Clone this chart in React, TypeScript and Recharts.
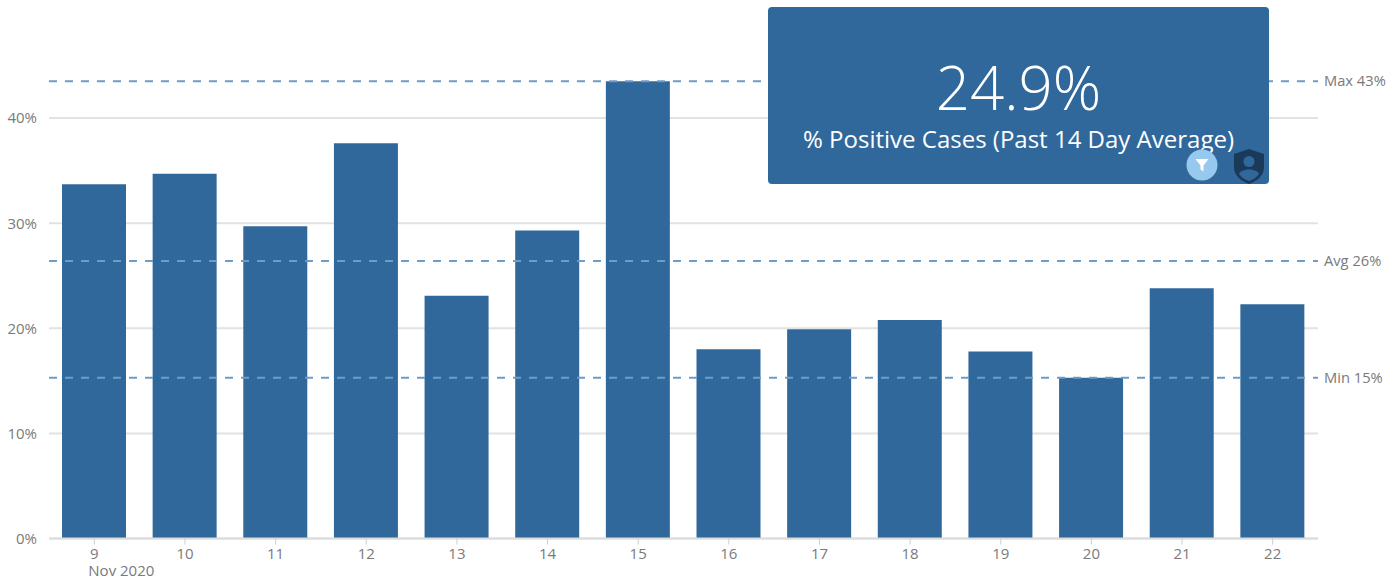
import React from "react";
import { BarChart, Bar, XAxis, YAxis, CartesianGrid, ReferenceLine } from "recharts";

const days = ["9", "10", "11", "12", "13", "14", "15", "16", "17", "18", "19", "20", "21", "22"];
const positive = [33.7, 34.7, 29.7, 37.6, 23.1, 29.3, 43.5, 18.0, 19.9, 20.8, 17.8, 15.3, 23.8, 22.3];
const yTicks = [0, 10, 20, 30, 40];
const refLines = [
  { label: "Max 43%", value: 43.5 },
  { label: "Avg 26%", value: 26.4 },
  { label: "Min 15%", value: 15.3 },
];
const monthLabel = "Nov 2020";
const kpiValue = "24.9%";
const kpiTitle = "% Positive Cases (Past 14 Day Average)";

const data = days.map((day, i) => ({ day, value: positive[i] }));
const FONT = "'Open Sans', sans-serif";
const BLUE = "#31689b";
const TEXT = "#7a7a7a";

function DayTick(props: any) {
  const { x, y, payload, index } = props;
  return (
    <g>
      <text x={x} y={y + 12} textAnchor="middle" fontFamily={FONT} fontSize={15} fill={TEXT}>
        {payload.value}
      </text>
      {index === 0 && (
        <text x={x - 6} y={y + 29} textAnchor="start" fontFamily={FONT} fontSize={15} fill={TEXT}>
          {monthLabel}
        </text>
      )}
    </g>
  );
}

function RefLabel(props: any) {
  const { viewBox, text } = props;
  return (
    <text x={viewBox.x + viewBox.width + 6} y={viewBox.y + 5} fontFamily={FONT} fontSize={14.7} fill={TEXT}>
      {text}
    </text>
  );
}

export default function App() {
  return (
    <div style={{ position: "absolute", left: 0, top: 0, width: 1396, height: 580, overflow: "hidden", background: "#fff" }}>
      <BarChart
        width={1396}
        height={580}
        data={data}
        barSize={64}
        margin={{ top: 13, right: 78, bottom: 0, left: 0 }}
      >
        <CartesianGrid vertical={false} stroke="#e2e2e2" strokeWidth={2} horizontalValues={yTicks} />
        <XAxis
          dataKey="day"
          interval={0}
          height={41.5}
          stroke="#dcdcdc"
          strokeWidth={2}
          tickSize={6}
          tick={<DayTick />}
          tickLine={{ stroke: "#cfcfcf", strokeWidth: 1 }}
        />
        <YAxis
          width={49}
          domain={[0, 50]}
          ticks={yTicks}
          axisLine={false}
          tickLine={false}
          tickMargin={6}
          tickFormatter={(v: number) => `${v}%`}
          tick={{ fontFamily: FONT, fontSize: 15, fill: TEXT }}
        />
        {refLines.map((r) => (
          <ReferenceLine
            key={r.label}
            y={r.value}
            stroke="#6f9bc6"
            strokeWidth={2}
            strokeDasharray="8 8"
            label={<RefLabel text={r.label} />}
          />
        ))}
        <Bar dataKey="value" fill={BLUE} isAnimationActive={false} />
      </BarChart>

      <div
        style={{
          position: "absolute",
          left: 768,
          top: 7,
          width: 501,
          height: 177,
          borderRadius: 4,
          background: BLUE,
          color: "#fff",
          fontFamily: FONT,
          textAlign: "center",
        }}
      >
        <div style={{ position: "absolute", left: 0, right: 0, top: 40, fontSize: 60, lineHeight: "80px", fontWeight: 300 }}>
          {kpiValue}
        </div>
        <div style={{ position: "absolute", left: 0, right: 0, top: 115, fontSize: 24, lineHeight: "34px" }}>
          {kpiTitle}
        </div>
        <svg style={{ position: "absolute", left: 0, top: 0 }} width={501} height={177}>
          <circle cx={434} cy={158} r={15.5} fill="#97c8ee" />
          <path d="M427.5 152 h13 l-5 6.5 v6 l-3 -2 v-4 z" fill="#fff" />
          <path
            d="M481 142 L496 147 V160 C496 169 489 174 481 177 C473 174 466 169 466 160 V147 Z"
            fill="#1a3a5a"
          />
          <circle cx={481} cy={154.5} r={5.5} fill={BLUE} />
          <path d="M471 167 C473 161 489 161 491 167 C488 171 484 173 481 174 C478 173 474 171 471 167 Z" fill={BLUE} />
        </svg>
      </div>
    </div>
  );
}
